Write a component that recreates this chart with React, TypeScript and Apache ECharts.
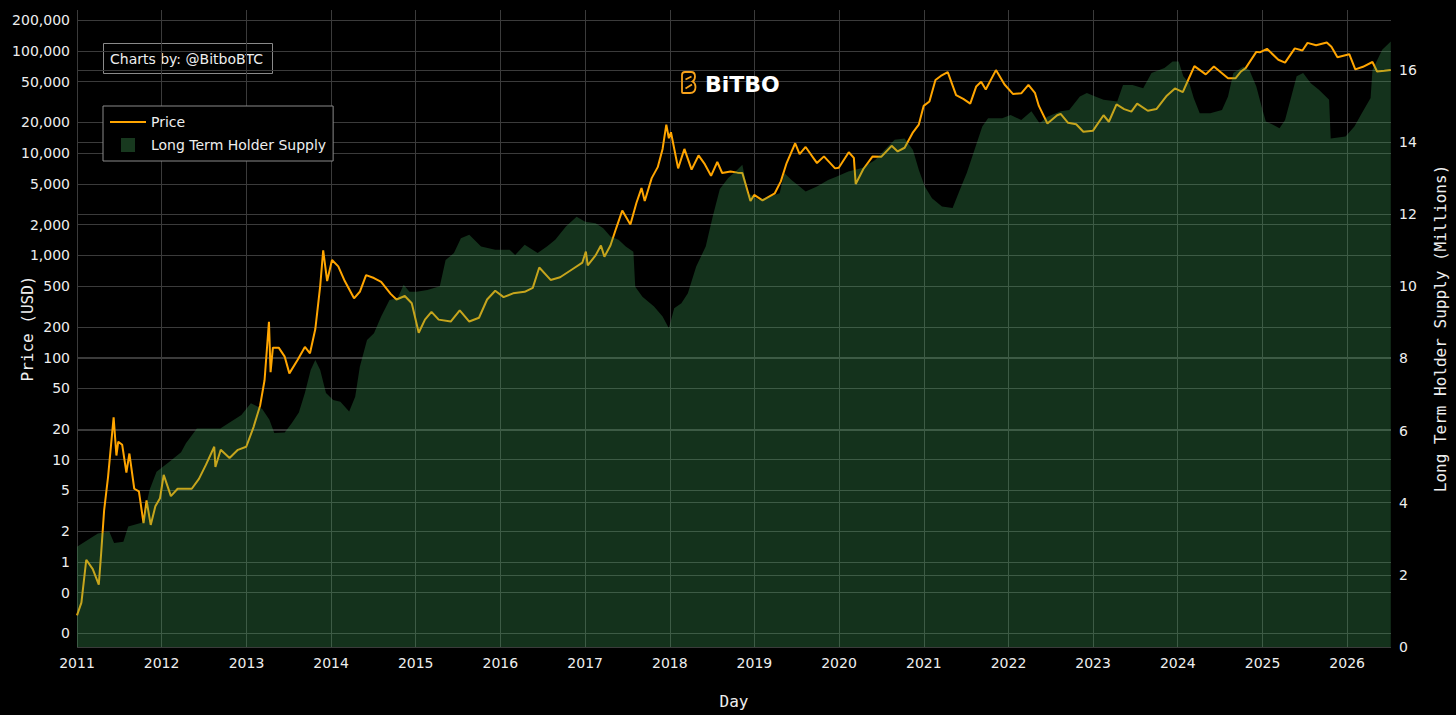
import React, { useEffect, useRef } from "react";
import * as echarts from "echarts";

// ---- Data ----
const priceDates = [
  "2011-01-01","2011-01-20","2011-02-10","2011-03-10","2011-04-05","2011-04-15","2011-04-28","2011-05-15","2011-06-08","2011-06-20","2011-06-28","2011-07-15","2011-08-02","2011-08-15","2011-09-05","2011-09-25","2011-10-15","2011-10-28","2011-11-15","2011-12-05","2011-12-25",
  "2012-01-10","2012-02-10","2012-03-10","2012-05-10","2012-06-10","2012-07-10","2012-08-15","2012-08-20","2012-09-12","2012-10-20","2012-11-25","2012-12-31",
  "2013-02-01","2013-03-01","2013-03-20","2013-04-08","2013-04-15","2013-04-25","2013-05-20","2013-06-15","2013-07-05","2013-08-10","2013-09-10","2013-10-02","2013-10-25","2013-11-15","2013-11-28","2013-12-15",
  "2014-01-05","2014-02-01","2014-03-01","2014-04-10","2014-05-05","2014-06-01","2014-07-05","2014-08-05","2014-09-15","2014-10-10","2014-11-15","2014-12-15",
  "2015-01-14","2015-02-10","2015-03-10","2015-04-10","2015-06-01","2015-07-10","2015-08-20","2015-10-01","2015-11-05","2015-12-10",
  "2016-01-15","2016-02-25","2016-04-15","2016-05-20","2016-06-17","2016-08-05","2016-09-15","2016-11-10","2016-12-20",
  "2017-01-04","2017-01-12","2017-02-15","2017-03-10","2017-03-25","2017-04-20","2017-05-15","2017-06-10","2017-07-15","2017-08-10","2017-09-01","2017-09-15","2017-10-15","2017-11-10","2017-12-01","2017-12-17","2017-12-28",
  "2018-01-06","2018-02-06","2018-03-05","2018-04-05","2018-05-05","2018-06-01","2018-06-28","2018-07-25","2018-08-15","2018-09-20","2018-10-20","2018-11-10","2018-12-15","2018-12-31",
  "2019-02-05","2019-03-30","2019-04-25","2019-05-20","2019-06-26","2019-07-15","2019-08-10","2019-09-28","2019-10-28","2019-12-15","2019-12-31",
  "2020-02-12","2020-03-05","2020-03-13","2020-04-15","2020-05-25","2020-07-01","2020-08-15","2020-09-10","2020-10-10","2020-11-15","2020-12-10","2020-12-31",
  "2021-01-25","2021-02-20","2021-03-15","2021-04-14","2021-05-20","2021-06-20","2021-07-20","2021-08-15","2021-09-05","2021-09-25","2021-11-08","2021-12-15",
  "2022-01-20","2022-02-25","2022-03-28","2022-04-25","2022-05-12","2022-06-18","2022-07-30","2022-08-14","2022-09-15","2022-10-20","2022-11-20","2022-12-31",
  "2023-02-15","2023-03-10","2023-04-12","2023-05-15","2023-06-15","2023-07-10","2023-08-25","2023-10-01","2023-11-15","2023-12-20",
  "2024-01-23","2024-02-15","2024-03-13","2024-05-01","2024-06-05","2024-08-05","2024-09-06","2024-09-30","2024-10-20","2024-12-05","2024-12-20",
  "2025-01-20","2025-03-10","2025-04-08","2025-05-20","2025-06-22","2025-07-14","2025-08-20","2025-10-05","2025-10-25","2025-11-20",
  "2026-01-10","2026-02-05","2026-03-10","2026-04-20","2026-05-10","2026-06-10","2026-07-08"
];
const priceValues = [
  0.30,0.40,1.05,0.85,0.60,1.2,3.2,6.8,26,11,15,14,7.5,11.5,5.2,4.9,2.4,4.0,2.3,3.5,4.2,
  7.1,4.4,5.2,5.2,6.5,8.9,13.4,8.5,12.5,10.4,12.5,13.4,
  21,34,60,224,72,125,125,102,70,95,127,110,190,500,1120,560,
  900,780,560,380,440,640,600,550,420,370,400,340,
  175,235,280,235,225,290,225,245,370,450,
  390,425,440,480,760,575,610,740,850,
  1090,800,1000,1250,970,1250,1850,2750,2000,3250,4550,3400,5700,7300,11000,19000,14000,
  16000,7100,11000,6900,9500,7800,6000,8200,6400,6600,6450,6400,3400,3900,
  3450,4050,5300,8000,12500,9800,11500,8000,9300,7100,7200,
  10200,9000,5000,7000,9300,9200,11800,10400,11300,16000,19000,29000,
  32000,52000,57000,62000,37000,34000,30500,45000,50000,42000,65000,47000,
  38000,38500,46500,39000,29000,19500,23500,24200,19800,19200,16200,16550,
  23500,20300,30000,27000,25500,30500,26000,27000,36500,43000,
  39500,52000,71000,59000,70500,54000,54000,63000,68000,98000,97000,
  105000,82000,77000,106000,101000,120000,114000,121000,110000,87000,
  93000,66000,70000,78000,63000,64000,65000
];

const lthDates = [
  "2011-01-01","2011-04-01","2011-05-20","2011-06-10","2011-07-20","2011-08-10","2011-10-10","2011-11-10","2011-12-10",
  "2012-02-05","2012-03-25","2012-04-15","2012-06-01","2012-09-10","2012-12-10",
  "2013-01-20","2013-03-10","2013-04-10","2013-05-01","2013-06-15","2013-07-15","2013-08-15","2013-09-10","2013-10-05","2013-10-25","2013-11-15","2013-12-10",
  "2014-01-10","2014-02-10","2014-03-20","2014-04-15","2014-05-05","2014-06-05","2014-07-05","2014-08-05","2014-09-10","2014-10-15","2014-11-10","2014-12-05",
  "2015-01-05","2015-02-20","2015-04-15","2015-05-10","2015-06-15","2015-07-15","2015-08-20","2015-10-10","2015-12-10",
  "2016-02-10","2016-03-05","2016-04-15","2016-06-10","2016-07-20","2016-08-25","2016-10-10","2016-11-25",
  "2017-01-01","2017-02-15","2017-03-20","2017-04-20","2017-05-25","2017-06-25","2017-07-28","2017-08-05","2017-09-05","2017-10-25","2017-12-01","2017-12-28",
  "2018-01-20","2018-02-20","2018-03-20","2018-04-25","2018-06-05","2018-07-05","2018-08-05","2018-09-10","2018-10-15","2018-11-10","2018-12-05",
  "2019-01-20","2019-03-10","2019-04-20","2019-05-10","2019-06-10","2019-07-15","2019-08-10","2019-09-28","2019-11-15","2019-12-20",
  "2020-02-10","2020-04-10","2020-06-05","2020-07-15","2020-08-28","2020-10-10","2020-11-15","2020-12-10",
  "2021-01-05","2021-02-05","2021-03-20","2021-05-05","2021-06-05","2021-07-05","2021-08-05","2021-09-10","2021-10-05","2021-12-05",
  "2022-01-10","2022-02-25","2022-04-10","2022-05-15","2022-06-20","2022-08-15","2022-09-20","2022-11-05","2022-12-05",
  "2023-01-10","2023-02-15","2023-04-15","2023-05-10","2023-06-20","2023-08-05","2023-09-10","2023-11-05","2023-12-10",
  "2024-01-05","2024-01-25","2024-02-20","2024-03-10","2024-04-05","2024-05-20","2024-07-10","2024-08-05","2024-08-28","2024-10-10","2024-11-05","2024-12-05","2024-12-28",
  "2025-01-15","2025-02-15","2025-03-15","2025-04-08","2025-05-05","2025-05-28","2025-06-25","2025-07-28","2025-09-01","2025-10-15","2025-10-22","2025-12-25",
  "2026-02-01","2026-03-05","2026-04-12","2026-04-20","2026-06-01","2026-07-08"
];
const lthValues = [
  2.78,3.15,3.2,2.88,2.92,3.34,3.45,4.35,4.86,
  5.14,5.4,5.65,6.06,6.06,6.43,
  6.76,6.6,6.3,5.93,5.95,6.2,6.5,7.04,7.68,7.96,7.68,7.04,
  6.85,6.8,6.53,6.94,7.77,8.51,8.7,9.16,9.62,9.67,10.04,9.85,
  9.85,9.9,10.0,10.73,10.92,11.33,11.43,11.1,11.01,
  11.01,10.87,11.15,10.92,11.1,11.29,11.66,11.93,
  11.79,11.75,11.61,11.38,11.29,11.1,10.96,9.99,9.71,9.44,9.16,8.84,
  9.39,9.53,9.81,10.55,11.1,11.93,12.7,13.0,13.2,13.37,12.58,
  12.4,12.49,12.58,13.14,12.95,12.77,12.63,12.77,12.95,13.04,
  13.18,13.28,13.5,13.78,14.06,14.1,13.78,13.23,
  12.77,12.44,12.21,12.17,12.67,13.14,13.74,14.43,14.66,14.66,
  14.75,14.61,14.85,14.52,14.71,14.85,14.89,15.26,15.36,
  15.26,15.17,15.12,15.58,15.58,15.49,15.91,16.05,16.23,
  16.23,15.82,15.63,15.22,14.8,14.8,14.89,15.26,15.91,16.09,16.0,15.54,14.98,
  14.57,14.48,14.38,14.61,15.26,15.82,15.91,15.63,15.45,15.17,14.1,14.15,
  14.43,14.8,15.22,16.0,16.56,16.79
];

const priceTicks = [0.2, 0.5, 1, 2, 5, 10, 20, 50, 100, 200, 500, 1000, 2000, 5000, 10000, 20000, 50000, 100000, 200000];
const supplyTicks = [0, 2, 4, 6, 8, 10, 12, 14, 16];
const yearTicks = [2011, 2012, 2013, 2014, 2015, 2016, 2017, 2018, 2019, 2020, 2021, 2022, 2023, 2024, 2025, 2026];

const PRICE_MIN = 0.147;
const PRICE_MAX = 251800;
const SUPPLY_MAX = 17.66;
const X_MIN = "2011-01-01";
const X_MAX = "2026-07-09";

const logoPath =
  "M4 1 L10 1 Q14 1 14 5.5 Q14 9 11.5 10.5 Q14.5 12 14.5 16 Q14.5 22 9 22 L2 22 Q1 22 1 21 L1 4 Q1 1 4 1 Z " +
  "M4.5 8.5 L10.5 5.5 M4.5 17.5 L11 13.5";

let logoRegistered = false;
function ensureLogo() {
  if (logoRegistered) return;
  echarts.graphic.registerShape("bitboLogo", echarts.graphic.extendPath(logoPath, {}));
  logoRegistered = true;
}

function toTs(s: string): number {
  const [y, m, d] = s.split("-").map(Number);
  return new Date(y, m - 1, d).getTime();
}

const LABEL_FONT = "DejaVu Sans, Verdana, sans-serif";
const TITLE_FONT = "DejaVu Sans Mono, monospace";
const GRID_COLOR = "#3b3b3b";

function formatPrice(v: number): string {
  const p = Math.pow(10, v);
  if (p < 0.999) return "0";
  return Math.round(p).toLocaleString("en-US");
}

export default function App() {
  const ref = useRef<HTMLDivElement>(null);

  useEffect(() => {
    document.body.style.margin = "0";
    document.body.style.background = "#000";
    ensureLogo();
    const chart = echarts.init(ref.current!, null, { renderer: "svg" });

    const yearStamps = yearTicks.map((y) => new Date(y, 0, 1).getTime());
    const logTicks = priceTicks.map((t) => Math.log10(t));

    const option: any = {
      animation: false,
      backgroundColor: "#000",
      grid: { left: 77, right: 65, top: 10, bottom: 68, containLabel: false, outerBoundsMode: "none" },
      legend: {
        left: 103,
        top: 106,
        orient: "vertical",
        backgroundColor: "#000",
        borderColor: "#8a8a8a",
        borderWidth: 1,
        borderRadius: 0,
        padding: [9, 7, 9, 7],
        itemWidth: 36,
        itemHeight: 14,
        itemGap: 9,
        symbolKeepAspect: true,
        textStyle: { color: "#eeeeee", fontFamily: LABEL_FONT, fontSize: 14, lineHeight: 14 },
        data: [
          { name: "Price", icon: "path://M0 0H36V2H0Z", itemStyle: { color: "#ffa500" } },
          { name: "Long Term Holder Supply", icon: "path://M0 0H14V14H0Z", itemStyle: { color: "#18391f" } },
        ],
        selectedMode: false,
      },
      xAxis: {
        type: "value",
        min: toTs(X_MIN),
        max: toTs(X_MAX),
        name: "Day",
        nameLocation: "middle",
        nameGap: 46,
        nameMoveOverlap: false,
        nameTextStyle: { color: "#eeeeee", fontFamily: TITLE_FONT, fontSize: 16 },
        axisLine: { show: false },
        axisTick: { show: false, customValues: yearStamps },
        axisLabel: {
          customValues: yearStamps,
          color: "#eeeeee",
          fontFamily: LABEL_FONT,
          fontSize: 14,
          margin: 9,
          formatter: (v: number) => String(new Date(v).getFullYear()),
        },
        splitLine: { show: true, lineStyle: { color: GRID_COLOR, width: 1 } },
      },
      yAxis: [
        {
          type: "value",
          position: "left",
          min: Math.log10(PRICE_MIN),
          max: Math.log10(PRICE_MAX),
          name: "Price (USD)",
          nameLocation: "middle",
          nameRotate: 90,
          nameGap: 42,
          nameMoveOverlap: false,
          nameTextStyle: { color: "#eeeeee", fontFamily: TITLE_FONT, fontSize: 16 },
          axisLine: { show: false },
          axisTick: { show: false, customValues: logTicks },
          axisLabel: {
            customValues: logTicks,
            color: "#eeeeee",
            fontFamily: LABEL_FONT,
            fontSize: 14,
            margin: 7,
            formatter: formatPrice,
          },
          splitLine: { show: true, lineStyle: { color: GRID_COLOR, width: 1 } },
        },
        {
          type: "log",
          logBase: 10,
          min: PRICE_MIN,
          max: PRICE_MAX,
          show: false,
          splitLine: { show: false },
        },
        {
          type: "value",
          position: "right",
          min: 0,
          max: SUPPLY_MAX,
          name: "Long Term Holder Supply (Millions)",
          nameLocation: "middle",
          nameRotate: 90,
          nameGap: 41,
          nameMoveOverlap: false,
          nameTextStyle: { color: "#eeeeee", fontFamily: TITLE_FONT, fontSize: 16 },
          axisLine: { show: false },
          axisTick: { show: false, customValues: supplyTicks },
          axisLabel: {
            customValues: supplyTicks,
            color: "#eeeeee",
            fontFamily: LABEL_FONT,
            fontSize: 14,
            margin: 8,
          },
          splitLine: { show: true, lineStyle: { color: GRID_COLOR, width: 1 } },
        },
      ],
      series: [
        {
          name: "Price",
          type: "line",
          yAxisIndex: 1,
          showSymbol: false,
          symbol: "none",
          data: priceDates.map((d, i) => [toTs(d), priceValues[i]]),
          lineStyle: { color: "#ffa500", width: 2 },
          itemStyle: { color: "#ffa500" },
          z: 2,
        },
        {
          name: "Long Term Holder Supply",
          type: "line",
          yAxisIndex: 2,
          showSymbol: false,
          symbol: "none",
          data: lthDates.map((d, i) => [toTs(d), lthValues[i]]),
          lineStyle: { width: 0, color: "rgba(67,165,92,0.3)" },
          itemStyle: { color: "#18391f" },
          areaStyle: { color: "rgba(67,165,92,0.3)", opacity: 1 },
          z: 3,
        },
      ],
      graphic: [
        {
          type: "group",
          left: 103,
          top: 43,
          children: [
            {
              type: "rect",
              shape: { x: 0.5, y: 0.5, width: 169, height: 30 },
              style: { fill: "#000", stroke: "#8a8a8a", lineWidth: 1 },
            },
            {
              type: "text",
              x: 7,
              y: 15.5,
              style: {
                text: "Charts by: @BitboBTC",
                fill: "#eeeeee",
                font: "14px " + LABEL_FONT,
                verticalAlign: "middle",
              },
            },
          ],
        },
        {
          type: "bitboLogo",
          x: 681,
          y: 71,
          scaleX: 1,
          scaleY: 1,
          style: { fill: "none", stroke: "#f7a21b", lineWidth: 1.8 },
          z: 10,
        },
        {
          type: "text",
          x: 705,
          y: 84,
          z: 10,
          style: {
            text: "BiTBO",
            fill: "#ffffff",
            font: "bold 22px " + LABEL_FONT,
            verticalAlign: "middle",
          },
        },
      ],
    };

    chart.setOption(option);
    return () => chart.dispose();
  }, []);

  return <div ref={ref} style={{ width: 1456, height: 715, background: "#000" }} />;
}
